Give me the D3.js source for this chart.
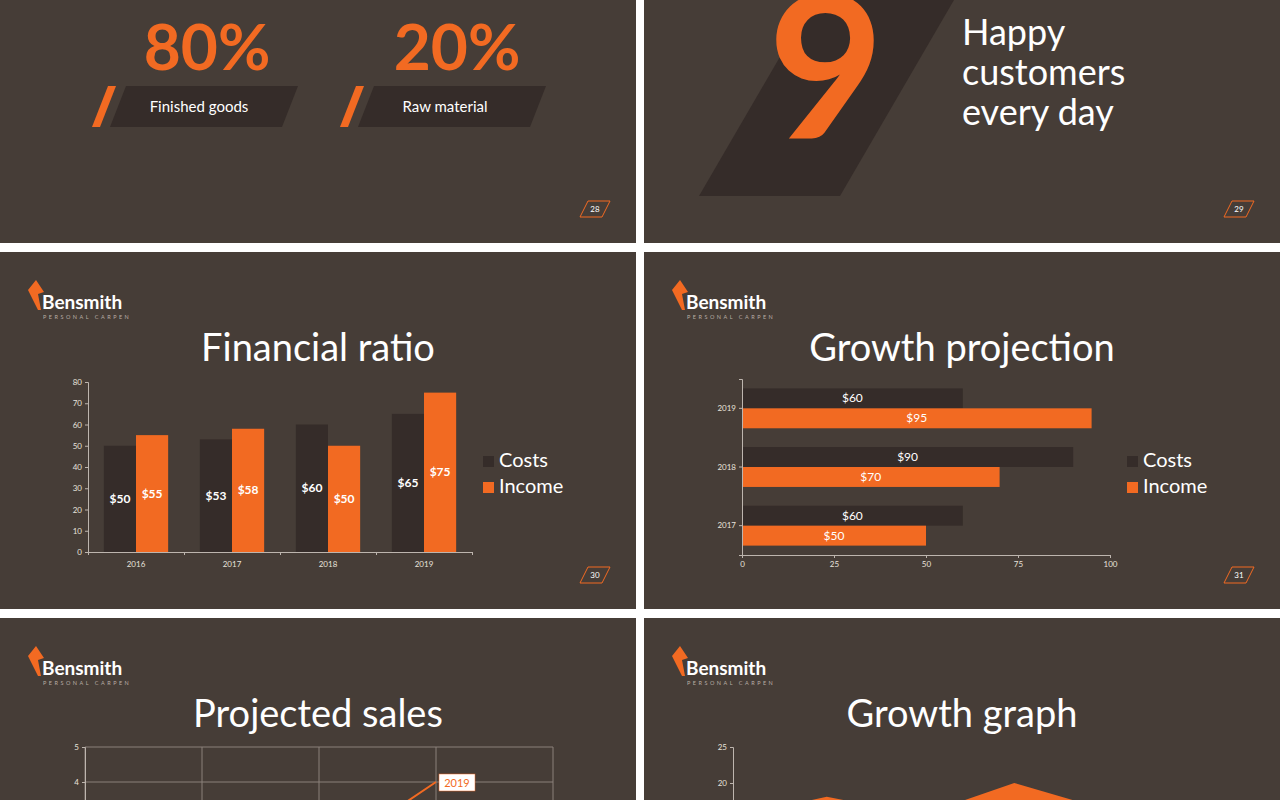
<!DOCTYPE html>
<html><head><meta charset="utf-8">
<script src="https://cdn.jsdelivr.net/npm/d3@7"></script>
<style>body{margin:0;background:#fff}svg{display:block}text{font-family:Lato,"Open Sans",sans-serif}</style>
</head><body><svg id="c" width="1280" height="800"></svg>
<script>
const BG="#463d37", DARK="#352c29", OR="#f26a22", AX="#bdb5ae";
// data
const pctValues=["80%","20%"], pctLabels=["Finished goods","Raw material"];
const finYears=["2016","2017","2018","2019"], finCosts=[50,53,60,65], finIncome=[55,58,50,75];
const growYears=["2017","2018","2019"], growCosts=[60,90,60], growIncome=[50,70,95];
const salesX=["1","2","3","4"], salesY=[1,1.5,1.75,4];
const areaX=["1","2","3","4","5"], areaY=[15.2,18.1,15.5,20,16.2];
const series=["Costs","Income"];

const svg=d3.select("#c");
const slides=[[0,0,636,243],[644,0,636,243],[0,252,636,357],[644,252,636,357],[0,618,636,182],[644,618,636,182]];
slides.forEach(s=>svg.append("rect").attr("x",s[0]).attr("y",s[1]).attr("width",s[2]).attr("height",s[3]).attr("fill",BG));

function pageNum(x,y,n){
  svg.append("path").attr("d",`M${x-10},${y+8}L${x-2},${y-8}L${x+20},${y-8}L${x+12},${y+8}Z`).attr("fill","none").attr("stroke",OR).attr("stroke-width",1);
  svg.append("text").attr("x",x+5).attr("y",y+3).attr("text-anchor","middle").attr("font-size",8).attr("fill","#fff").text(n);
}
function logo(x,y){
  svg.append("path").attr("d",`M${x},${y+10}L${x+8},${y}L${x+16},${y+12}L${x+10},${y+14}L${x+13},${y+30}L${x+10},${y+30}Z`).attr("fill",OR);
  svg.append("text").attr("x",x+14).attr("y",y+29).attr("font-size",19).attr("font-weight",700).attr("fill","#fff").text("Bensmith");
  svg.append("text").attr("x",x+15).attr("y",y+39).attr("font-size",5.5).attr("letter-spacing",2.5).attr("fill","#b8aea6").text("PERSONAL CARPEN");
}
function title(cx,y,t){svg.append("text").attr("x",cx).attr("y",y).attr("text-anchor","middle").attr("font-size",38).attr("fill","#fff").attr("font-family","'Open Sans',sans-serif").text(t);}
function legend(x,y){
  series.forEach((s,i)=>{
    svg.append("rect").attr("x",x).attr("y",y+i*26-11).attr("width",11).attr("height",11).attr("fill",i?OR:DARK);
    svg.append("text").attr("x",x+16).attr("y",y+i*26).attr("font-size",20).attr("fill","#fff").text(s);
  });
}
function styleAxis(g){g.selectAll("path,line").attr("stroke",AX);g.selectAll("text").attr("fill","#e8e2dc").attr("font-size",8);}

// slide 28
pctValues.forEach((v,i)=>{
  const cx=[207,457][i], l=[92,340][i], w=206;
  svg.append("text").attr("x",cx).attr("y",70).attr("text-anchor","middle").attr("font-size",64).attr("font-weight",700).attr("fill",OR).text(v);
  svg.append("path").attr("d",`M${l+18},127L${l+34},86L${l+w},86L${l+w-16},127Z`).attr("fill",DARK);
  svg.append("path").attr("d",`M${l},127L${l+16},86L${l+24},86L${l+8},127Z`).attr("fill",OR);
  svg.append("text").attr("x",[199,445][i]).attr("y",112).attr("text-anchor","middle").attr("font-size",15).attr("fill","#fff").text(pctLabels[i]);
});
pageNum(590,209,"28");

// slide 29
svg.append("path").attr("d","M813,0L954,0L840,196L699,196Z").attr("fill",DARK);
svg.append("text").attr("x",826).attr("y",139).attr("text-anchor","middle").attr("font-size",200).attr("font-weight",700).attr("fill",OR).text("9");
["Happy","customers","every day"].forEach((t,i)=>svg.append("text").attr("x",962).attr("y",45+i*40).attr("font-size",36).attr("fill","#fff").attr("font-family","'Open Sans',sans-serif").text(t));
pageNum(1234,209,"29");

// slide 30
logo(28,280); title(318,361,"Financial ratio");
{
  const x=d3.scaleBand().domain(finYears).range([88,472]).paddingInner(0.33).paddingOuter(0.165);
  const y=d3.scaleLinear().domain([0,80]).range([552,382]);
  const bw=x.bandwidth()/2;
  finYears.forEach((yr,i)=>{
    [finCosts[i],finIncome[i]].forEach((v,j)=>{
      const bx=x(yr)+j*bw;
      svg.append("rect").attr("x",bx).attr("y",y(v)).attr("width",bw).attr("height",552-y(v)).attr("fill",j?OR:DARK);
      svg.append("text").attr("x",bx+bw/2).attr("y",y(v/2)+4).attr("text-anchor","middle").attr("font-size",12).attr("font-weight",700).attr("fill","#fff").text("$"+v);
    });
  });
  svg.append("g").attr("transform","translate(88,0)").call(d3.axisLeft(y).ticks(8).tickSize(3)).call(styleAxis);
  const xa=d3.scaleLinear().domain([0,4]).range([88,472]);
  const g=svg.append("g").attr("transform","translate(0,552)").call(d3.axisBottom(xa).ticks(4).tickSize(3).tickFormat(""));styleAxis(g);
  finYears.forEach(yr=>svg.append("text").attr("x",x(yr)+x.bandwidth()/2).attr("y",567).attr("text-anchor","middle").attr("font-size",8).attr("fill","#e8e2dc").text(yr));
  legend(483,467);
}
pageNum(590,575,"30");

// slide 31
logo(672,280); title(962,361,"Growth projection");
{
  const x=d3.scaleLinear().domain([0,100]).range([742,1110]);
  const y=d3.scaleBand().domain(growYears.slice().reverse()).range([379,555]).paddingInner(0.32).paddingOuter(0.16);
  const bh=y.bandwidth()/2;
  growYears.forEach((yr,i)=>{
    [growCosts[i],growIncome[i]].forEach((v,j)=>{
      const by=y(yr)+j*bh;
      svg.append("rect").attr("x",742).attr("y",by).attr("width",x(v)-742).attr("height",bh).attr("fill",j?OR:DARK);
      svg.append("text").attr("x",(742+x(v))/2).attr("y",by+bh/2+4).attr("text-anchor","middle").attr("font-size",12).attr("fill","#fff").text("$"+v);
    });
  });
  const g1=svg.append("g").attr("transform","translate(0,555)").call(d3.axisBottom(x).tickValues([0,25,50,75,100]).tickSize(3));styleAxis(g1);
  const g2=svg.append("g").attr("transform","translate(742,0)").call(d3.axisLeft(y).tickSize(3));styleAxis(g2);
  legend(1127,467);
}
pageNum(1234,575,"31");

// slide 32
logo(28,646); title(318,727,"Projected sales");
{
  const x=d3.scalePoint().domain(salesX).range([85,436]);
  const gx=d3.scaleLinear().domain([0,4]).range([85,553]);
  const y=d3.scaleLinear().domain([0,5]).range([922,747]);
  [5,4].forEach(v=>svg.append("line").attr("x1",85).attr("x2",553).attr("y1",y(v)).attr("y2",y(v)).attr("stroke","#8a817b"));
  [0,1,2,3,4].forEach(d=>svg.append("line").attr("x1",gx(d)).attr("x2",gx(d)).attr("y1",747).attr("y2",800).attr("stroke","#8a817b"));
  const g=svg.append("g").attr("transform","translate(85,0)").call(d3.axisLeft(y).tickValues([4,5]).tickFormat(d3.format("d")).tickSize(3));styleAxis(g);
  svg.append("path").datum(salesY).attr("d",d3.line().x((d,i)=>x(salesX[i])).y(d=>y(d))).attr("fill","none").attr("stroke",OR).attr("stroke-width",2);
  svg.append("rect").attr("x",439).attr("y",774).attr("width",36).attr("height",17).attr("fill","#fff").attr("stroke",OR).attr("stroke-width",0.5);
  svg.append("text").attr("x",457).attr("y",787).attr("text-anchor","middle").attr("font-size",11).attr("fill",OR).text("2019");
}

// slide 33
logo(672,646); title(962,727,"Growth graph");
{
  const x=d3.scalePoint().domain(areaX).range([733,1108]);
  const y=d3.scaleLinear().domain([0,25]).range([927,747]);
  svg.append("path").datum(areaY).attr("d",d3.area().x((d,i)=>x(areaX[i])).y0(900).y1(d=>y(d))).attr("fill",OR);
  const g=svg.append("g").attr("transform","translate(733,0)").call(d3.axisLeft(y).tickValues([20,25]).tickSize(3));styleAxis(g);
}
</script></body></html>
